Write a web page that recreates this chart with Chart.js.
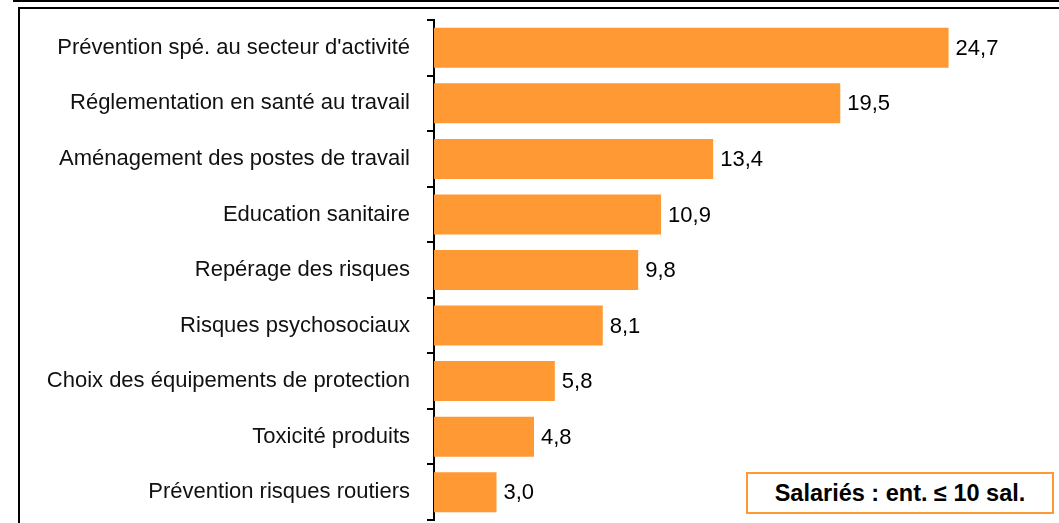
<!DOCTYPE html>
<html lang="fr">
<head>
<meta charset="utf-8">
<script src="https://cdn.jsdelivr.net/npm/chart.js@4.4.1/dist/chart.umd.min.js"></script>
<style>
  html, body { margin: 0; padding: 0; background: #fff; }
  body { width: 1059px; height: 523px; position: relative; overflow: hidden; font-family: 'Liberation Sans', Arial, sans-serif; }
  #wrap { position: absolute; left: 0; top: 0; width: 1059px; height: 523px; }
  .rule { position: absolute; background: #000; }
  #note {
    position: absolute; left: 746px; top: 472px; width: 304px; height: 38px;
    border: 2px solid #ff9933; box-sizing: content-box;
    font: bold 23.5px 'Liberation Sans', Arial, sans-serif; color: #000;
    text-align: center; line-height: 38px; background: #fff;
  }
</style>
</head>
<body>
<div id="wrap"><canvas id="chart"></canvas></div>
<div class="rule" style="left:13px; top:0; width:1046px; height:2px;"></div>
<div class="rule" style="left:18px; top:7px; width:1041px; height:2px;"></div>
<div class="rule" style="left:18px; top:7px; width:2px; height:516px;"></div>
<div id="note">Salariés : ent. ≤ 10 sal.</div>
<script>
// Données
const categories = [
  'Prévention spé. au secteur d\'activité',
  'Réglementation en santé au travail',
  'Aménagement des postes de travail',
  'Education sanitaire',
  'Repérage des risques',
  'Risques psychosociaux',
  'Choix des équipements de protection',
  'Toxicité produits',
  'Prévention risques routiers',
];
const values = [24.7, 19.5, 13.4, 10.9, 9.8, 8.1, 5.8, 4.8, 3.0];

const orange = '#ff9933';
const labelFont = {family: "'Liberation Sans', Arial, sans-serif", size: 22};

// Valeurs au bout des barres
const valueLabels = {
  id: 'valueLabels',
  afterDatasetsDraw(chart) {
    const ctx = chart.ctx;
    const meta = chart.getDatasetMeta(0);
    ctx.save();
    ctx.font = `${labelFont.size}px ${labelFont.family}`;
    ctx.fillStyle = '#000';
    ctx.textAlign = 'left';
    ctx.textBaseline = 'middle';
    meta.data.forEach((bar, i) => {
      const txt = values[i].toFixed(1).replace('.', ',');
      ctx.fillText(txt, bar.x + 7, bar.y + 1);
    });
    ctx.restore();
  },
};

new Chart(document.getElementById('chart').getContext('2d'), {
  type: 'bar',
  data: {
    labels: categories,
    datasets: [
      {
        data: values,
        backgroundColor: orange,
        borderWidth: 0,
        barPercentage: 0.72,
        categoryPercentage: 1,
      },
    ],
  },
  options: {
    indexAxis: 'y',
    responsive: true,
    maintainAspectRatio: false,
    animation: false,
    layout: {padding: {top: 20, bottom: 3, left: 0, right: 0}},
    plugins: {legend: {display: false}, tooltip: {enabled: false}},
    scales: {
      x: {display: false, min: 0, max: 30},
      y: {
        offset: true,
        grid: {
          display: true,
          offset: true,
          drawOnChartArea: false,
          drawTicks: true,
          tickLength: 7,
          color: '#000',
          lineWidth: 2,
        },
        border: {display: true, color: '#000', width: 2},
        ticks: {color: '#111', font: labelFont, padding: 17},
        afterFit(scale) {
          // largeur fixe, pas de marge verticale due aux libellés
          scale.width = 434;
          scale.paddingTop = 0;
          scale.paddingBottom = 0;
        },
      },
    },
  },
  plugins: [valueLabels],
});
</script>
</body>
</html>
